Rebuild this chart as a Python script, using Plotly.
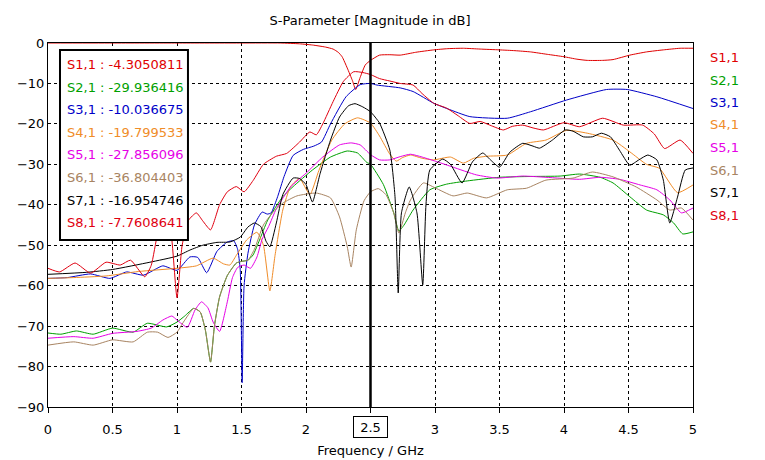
import plotly.graph_objects as go

# ---------------- data ----------------
names = ["S1,1", "S2,1", "S3,1", "S4,1", "S5,1", "S6,1", "S7,1", "S8,1"]
marker_values = ["-4.3050811", "-29.936416", "-10.036675", "-19.799533",
                 "-27.856096", "-36.804403", "-16.954746", "-7.7608641"]
colors = ["#e00000", "#00a000", "#0000c8", "#f08c28",
          "#e600e6", "#a88462", "#000000", "#e00010"]

s11_f = [0, 0.5, 1.0, 1.5, 1.8, 1.95, 2.05, 2.15, 2.21, 2.25, 2.28, 2.32, 2.36, 2.385,
         2.42, 2.46, 2.5, 2.57, 2.65, 2.73, 2.85, 2.99, 3.1, 3.22, 3.35, 3.5, 3.62,
         3.74, 3.87, 4.0, 4.1, 4.18, 4.3, 4.38, 4.51, 4.64, 4.77, 4.9, 5.0]
s11_db = [0, 0, 0, 0, 0, -0.2, -0.5, -1.0, -1.5, -2.3, -3.4, -6.2, -9.3, -11.5,
          -8.5, -5.4, -4.3, -3.0, -2.9, -3.0, -2.3, -1.7, -1.4, -1.3, -1.5, -1.7, -1.9,
          -2.2, -2.8, -3.4, -4.0, -4.3, -4.3, -4.1, -3.0, -2.2, -1.7, -1.3, -1.3]

s21_f = [0, 0.1, 0.22, 0.35, 0.5, 0.66, 0.77, 0.92, 1.0, 1.06, 1.13, 1.18, 1.22, 1.26,
         1.29, 1.33, 1.39, 1.46, 1.5, 1.55, 1.59, 1.64, 1.7, 1.77, 1.82, 1.9, 2.05, 2.19,
         2.32, 2.4, 2.47, 2.5, 2.6, 2.68, 2.72, 2.76, 2.83, 2.96, 3.09, 3.25, 3.5, 3.74,
         3.97, 4.12, 4.28, 4.38, 4.51, 4.64, 4.77, 4.85, 4.92, 5.0]
s21_db = [-71.7, -72.0, -71.2, -72.0, -70.5, -71.5, -69.3, -70.2, -69.0, -67.5, -65.6, -66.5,
          -71.0, -78.9, -70.0, -62.8, -57.5, -54.4, -54.0, -53.7, -52.4, -48.7, -44.0, -40.3,
          -38.0, -35.5, -31.4, -28.2, -26.7, -27.2, -29.5, -30.0, -35.0, -42.0, -46.5, -45.0,
          -41.3, -36.3, -34.9, -34.1, -33.2, -33.0, -32.9, -32.4, -33.2, -34.6, -38.0, -41.3,
          -42.5, -44.5, -47.2, -46.7]

s31_f = [0, 0.15, 0.33, 0.48, 0.61, 0.74, 0.89, 1.0, 1.1, 1.16, 1.23, 1.31, 1.39, 1.44,
         1.47, 1.49, 1.505, 1.52, 1.55, 1.6, 1.66, 1.7, 1.73, 1.78, 1.83, 1.9, 1.98, 2.06,
         2.12, 2.19, 2.31, 2.42, 2.5, 2.55, 2.73, 2.83, 2.99, 3.1, 3.27, 3.56, 3.74, 4.02,
         4.33, 4.49, 4.72, 5.0]
s31_db = [-58.2, -58.0, -57.1, -58.2, -56.6, -57.4, -55.1, -56.2, -52.9, -53.0, -56.8, -51.5,
          -49.2, -48.9, -51.0, -56.0, -84.0, -60.0, -52.0, -45.0, -41.8, -42.3, -42.0, -38.0,
          -33.0, -27.8, -26.3, -25.5, -24.5, -20.0, -13.3, -10.3, -10.0, -10.4, -11.1, -12.0,
          -14.9, -16.3, -18.2, -18.6, -17.0, -14.1, -11.5, -11.5, -13.3, -16.2]

s41_f = [0, 0.2, 0.45, 0.7, 1.0, 1.15, 1.28, 1.36, 1.41, 1.46, 1.54, 1.62, 1.67, 1.72,
         1.76, 1.82, 1.88, 1.95, 2.03, 2.1, 2.2, 2.3, 2.4, 2.5, 2.57, 2.65, 2.7, 2.75, 2.81,
         2.9, 2.99, 3.12, 3.22, 3.3, 3.4, 3.56, 3.71, 3.86, 4.02, 4.18, 4.38, 4.51, 4.64,
         4.74, 4.88, 5.0]
s41_db = [-58.2, -58.0, -57.6, -56.5, -55.7, -55.1, -53.2, -54.6, -54.9, -52.5, -48.7, -46.8,
          -50.0, -61.3, -52.5, -41.3, -35.5, -33.5, -37.5, -31.5, -24.0, -20.0, -18.5, -19.8,
          -23.0, -27.5, -29.2, -28.3, -27.7, -28.5, -28.9, -28.2, -29.7, -28.5, -28.0, -27.7,
          -24.8, -24.0, -21.6, -22.3, -24.0, -26.9, -30.0, -31.0, -37.0, -35.1]

s51_f = [0, 0.2, 0.35, 0.5, 0.69, 0.8, 0.89, 0.96, 1.0, 1.08, 1.14, 1.19, 1.24, 1.28, 1.33,
         1.39, 1.43, 1.47, 1.52, 1.57, 1.62, 1.66, 1.71, 1.77, 1.88, 2.0, 2.13, 2.26, 2.35,
         2.42, 2.5, 2.57, 2.65, 2.73, 2.81, 2.9, 3.02, 3.14, 3.32, 3.48, 3.68, 3.86, 4.12,
         4.28, 4.43, 4.59, 4.72, 4.82, 4.91, 5.0]
s51_db = [-73.0, -72.6, -73.0, -71.8, -71.3, -70.5, -68.5, -67.5, -68.5, -70.3, -66.0, -64.0,
          -65.5, -69.0, -71.3, -64.0, -58.0, -55.5, -54.9, -55.7, -52.9, -48.5, -45.4, -41.0,
          -35.6, -32.2, -28.2, -25.2, -24.7, -25.2, -27.6, -28.9, -28.9, -28.1, -27.5, -28.2,
          -29.4, -30.7, -32.6, -33.4, -32.9, -33.2, -33.7, -33.2, -33.7, -35.1, -36.3, -38.8,
          -42.0, -40.8]

s61_f = [0, 0.2, 0.35, 0.5, 0.66, 0.77, 0.85, 0.93, 1.0, 1.05, 1.13, 1.18, 1.22, 1.26, 1.29,
         1.33, 1.39, 1.46, 1.5, 1.55, 1.6, 1.67, 1.74, 1.82, 1.93, 2.08, 2.19, 2.26, 2.32,
         2.35, 2.39, 2.45, 2.5, 2.56, 2.62, 2.68, 2.72, 2.77, 2.81, 2.91, 3.0, 3.14, 3.25,
         3.4, 3.56, 3.71, 3.86, 4.07, 4.22, 4.38, 4.56, 4.72, 4.82, 4.91, 5.0]
s61_db = [-74.7, -73.9, -74.7, -73.4, -73.9, -71.5, -71.5, -72.8, -71.5, -69.0, -65.6, -66.5,
          -71.0, -78.9, -70.0, -62.8, -57.5, -54.4, -54.0, -53.7, -51.0, -45.0, -42.0, -39.6,
          -37.8, -37.1, -38.3, -43.0, -50.4, -55.4, -46.2, -39.0, -36.8, -36.0, -37.5, -42.0,
          -47.0, -42.0, -38.8, -34.6, -35.8, -37.8, -37.1, -38.3, -36.3, -35.9, -33.9, -33.4,
          -31.9, -33.1, -35.6, -38.8, -41.3, -40.8, -43.8]

s71_f = [0, 0.3, 0.5, 0.79, 1.0, 1.1, 1.2, 1.31, 1.41, 1.49, 1.55, 1.6, 1.65, 1.69, 1.72,
         1.77, 1.82, 1.9, 1.95, 2.0, 2.05, 2.11, 2.19, 2.26, 2.33, 2.38, 2.44, 2.5, 2.57,
         2.65, 2.69, 2.715, 2.74, 2.8, 2.86, 2.905, 2.93, 2.96, 3.06, 3.12, 3.21, 3.29, 3.37,
         3.43, 3.5, 3.58, 3.68, 3.76, 3.81, 3.91, 4.01, 4.07, 4.15, 4.22, 4.29, 4.36, 4.43,
         4.51, 4.58, 4.65, 4.72, 4.77, 4.82, 4.88, 4.94, 5.0]
s71_db = [-57.2, -56.7, -56.0, -54.2, -52.7, -51.2, -50.0, -49.3, -49.2, -48.0, -45.5, -44.5,
          -45.4, -49.0, -50.4, -44.5, -37.5, -33.4, -33.5, -35.0, -39.3, -32.2, -24.0, -18.3,
          -15.5, -15.0, -15.8, -17.0, -19.8, -26.5, -38.0, -61.8, -42.0, -35.6, -42.0, -59.8,
          -40.0, -31.4, -28.7, -30.0, -34.6, -29.4, -27.2, -28.9, -30.7, -27.0, -24.8, -25.5,
          -26.0, -24.0, -21.5, -21.8, -23.2, -23.2, -22.3, -23.2, -26.5, -30.2, -28.9, -27.7,
          -28.9, -33.9, -44.5, -38.1, -31.4, -30.9]

s81_f = [0, 0.09, 0.21, 0.33, 0.45, 0.56, 0.64, 0.75, 0.8, 0.85, 0.9, 0.95, 1.0, 1.04, 1.09,
         1.15, 1.2, 1.26, 1.33, 1.39, 1.46, 1.52, 1.59, 1.67, 1.77, 1.85, 1.95, 2.03, 2.08,
         2.13, 2.21, 2.29, 2.37, 2.44, 2.5, 2.57, 2.65, 2.73, 2.83, 2.9, 2.99, 3.09, 3.18,
         3.27, 3.35, 3.44, 3.53, 3.6, 3.68, 3.76, 3.84, 4.0, 4.12, 4.3, 4.46, 4.61, 4.7,
         4.78, 4.9, 5.0]
s81_db = [-55.7, -56.6, -54.4, -56.9, -54.2, -54.9, -53.7, -57.8, -55.0, -47.0, -42.0, -46.0,
          -63.0, -50.0, -43.8, -42.0, -44.0, -46.2, -40.0, -36.8, -35.5, -36.8, -34.0, -30.0,
          -28.0, -27.3, -24.5, -22.0, -22.7, -20.0, -14.5, -9.5, -7.1, -7.3, -7.8, -8.8,
          -9.4, -10.0, -10.4, -12.5, -14.9, -16.1, -18.0, -19.9, -19.4, -20.5, -21.5, -20.6,
          -20.3, -21.0, -21.5, -19.7, -20.7, -18.6, -20.3, -20.3, -22.5, -26.1, -24.0, -27.3]

freqs = [s11_f, s21_f, s31_f, s41_f, s51_f, s61_f, s71_f, s81_f]
dbs = [s11_db, s21_db, s31_db, s41_db, s51_db, s61_db, s71_db, s81_db]

x_ticks = [0, 0.5, 1, 1.5, 2, 2.5, 3, 3.5, 4, 4.5, 5]
x_ticktext = ["0", "0.5", "1", "1.5", "2", "", "3", "3.5", "4", "4.5", "5"]
y_ticks = [0, -10, -20, -30, -40, -50, -60, -70, -80, -90]
marker_freq = 2.5

FONT = "DejaVu Sans"

fig = go.Figure()
for n, f, d, c in zip(names, freqs, dbs, colors):
    fig.add_trace(go.Scatter(x=f, y=d, mode="lines", name=n,
                             line=dict(color=c, width=1, shape="spline", smoothing=0.5),
                             showlegend=False, hoverinfo="skip"))

# marker line
fig.add_shape(type="line", xref="x", yref="paper", x0=marker_freq, x1=marker_freq,
              y0=0, y1=1, line=dict(color="black", width=2.5))

# legend box
fig.add_shape(type="rect", xref="paper", yref="paper", x0=0.0186, x1=0.217,
              y0=0.459, y1=0.981, fillcolor="white", line=dict(color="black", width=2),
              layer="above")

annotations = []
line_px = [64, 87, 109, 132, 154, 177, 200, 222]
right_px = [58, 80, 103, 125, 147, 170, 192, 215]
for i, (n, v, c) in enumerate(zip(names, marker_values, colors)):
    annotations.append(dict(xref="paper", yref="paper", x=(65 - 48) / 645,
                            y=1 - (line_px[i] - 43) / 364, xanchor="left", yanchor="middle",
                            text=f"{n} : {v}", showarrow=False,
                            font=dict(family=FONT, size=13, color=c)))
    annotations.append(dict(xref="paper", yref="paper", x=(708 - 48) / 645,
                            y=1 - (right_px[i] - 43) / 364, xanchor="left", yanchor="middle",
                            text=n, showarrow=False,
                            font=dict(family=FONT, size=13, color=c)))
# boxed marker tick label
annotations.append(dict(xref="x", yref="paper", x=marker_freq, y=0, yshift=-20,
                        xanchor="center", yanchor="middle", text="2.5", showarrow=False,
                        width=29, height=16, bordercolor="black", borderwidth=1,
                        borderpad=2, bgcolor="white",
                        font=dict(family=FONT, size=13, color="black")))

fig.update_layout(
    width=765, height=460,
    margin=dict(l=48, r=72, t=43, b=53),
    paper_bgcolor="white", plot_bgcolor="white",
    font=dict(family=FONT, size=13, color="black"),
    title=dict(text="S-Parameter [Magnitude in dB]", x=370 / 765, xanchor="center",
               y=1 - 20 / 460, yanchor="middle", font=dict(family=FONT, size=13, color="black")),
    annotations=annotations,
)
fig.update_xaxes(range=[0, 5], tickvals=x_ticks, ticktext=x_ticktext, automargin=False,
                 showline=True, mirror=True, linecolor="black", linewidth=1,
                 showgrid=True, gridcolor="black", gridwidth=1, griddash="3px,3px",
                 ticks="outside", ticklen=5, tickcolor="black", zeroline=False,
                 ticklabelstandoff=5,
                 title=dict(text="Frequency / GHz", standoff=10,
                            font=dict(family=FONT, size=13, color="black")))
fig.update_yaxes(range=[-90, 0], tickvals=y_ticks, automargin=False,
                 showline=True, mirror=True, linecolor="black", linewidth=1,
                 showgrid=True, gridcolor="black", gridwidth=1, griddash="3px,3px",
                 ticks="", zeroline=False)

fig.write_html("out.html", config={"displayModeBar": False},
               post_script="document.body.style.margin='0';document.body.style.padding='0';")
